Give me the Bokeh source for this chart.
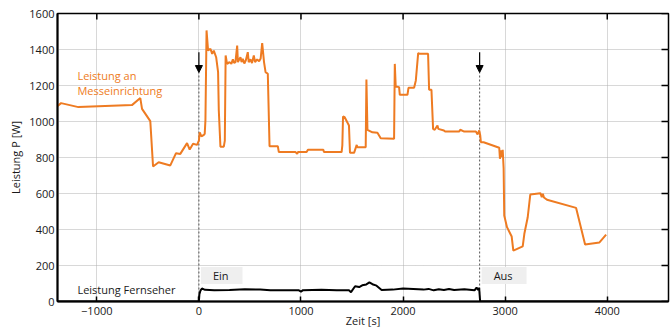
import math
from bokeh.plotting import figure
from bokeh.models import FixedTicker, Label, Arrow, NormalHead
from bokeh.embed import file_html
from bokeh.resources import INLINE

# ---- data ----
meter_t = [-1390, -1350, -1180, -656, -574, -557, -476, -449, -394, -280, -224, -182, -116, -90, -57, -18,
           0, 8, 25, 45, 57, 64, 75, 90, 113, 130, 146, 169, 188, 195, 211, 244, 254, 262, 276, 300, 318,
           333, 345, 358, 375, 382, 407, 418, 430, 445, 460, 479, 488, 505, 520, 538, 550, 570, 590, 605,
           620, 638, 653, 675, 692, 773, 783, 947, 963, 970, 1055, 1068, 1219, 1225, 1398, 1405, 1412, 1428,
           1470, 1480, 1520, 1546, 1552, 1634, 1641, 1651, 1700, 1749, 1781, 1912, 1919, 1928, 1961, 1968,
           2043, 2053, 2108, 2125, 2148, 2167, 2245, 2255, 2278, 2294, 2310, 2337, 2345, 2400, 2412, 2550,
           2560, 2599, 2713, 2730, 2746, 2756, 2762, 2789, 2942, 2949, 2959, 2969, 2976, 2985, 2991, 3018,
           3064, 3080, 3172, 3188, 3221, 3246, 3345, 3359, 3369, 3380, 3410, 3695, 3783, 3924, 3989]
meter_p = [1083, 1102, 1080, 1091, 1130, 1070, 1002, 750, 774, 756, 824, 820, 880, 844, 876, 870,
           894, 940, 917, 924, 931, 1006, 1506, 1394, 1404, 1376, 1394, 1357, 1274, 1061, 860, 860, 894, 1367, 1320, 1330, 1320,
           1345, 1325, 1330, 1422, 1330, 1357, 1330, 1348, 1322, 1340, 1385, 1330, 1345, 1325, 1367, 1330, 1345, 1335, 1350,
           1435, 1330, 1274, 1265, 863, 863, 830, 830, 820, 830, 830, 843, 843, 830, 830, 867, 1028, 1024,
           978, 826, 826, 870, 857, 857, 1233, 954, 940, 937, 907, 904, 1320, 1194, 1191, 1148,
           1148, 1187, 1187, 1228, 1380, 1376, 1376, 1176, 1176, 959, 954, 978, 959, 950, 944, 944,
           954, 944, 944, 928, 950, 922, 885, 885, 854, 793, 839, 802, 843, 740, 478, 413,
           361, 283, 306, 376, 468, 594, 602, 580, 598, 578, 565, 520, 317, 328, 372]

tv_t = [-1390, 0, 5, 15, 30, 60, 150, 300, 450, 600, 700, 980, 1000, 1020, 1200, 1350, 1470, 1490, 1530,
        1570, 1600, 1640, 1670, 1700, 1740, 1790, 1900, 2000, 2100, 2200, 2250, 2300, 2350, 2400, 2450,
        2500, 2600, 2700, 2720, 2735, 2745, 2755, 2760, 4000]
tv_p = [0, 0, 40, 60, 72, 65, 63, 64, 68, 66, 62, 62, 55, 63, 65, 63, 62, 52, 85,
        80, 90, 95, 106, 96, 88, 64, 66, 72, 70, 66, 70, 62, 68, 64, 70,
        64, 68, 62, 78, 64, 76, 0, 0, 0]

events = [0, 2750]
event_labels = ["Ein", "Aus"]

x_ticks = [-1000, 0, 1000, 2000, 3000, 4000]
y_ticks = [0, 200, 400, 600, 800, 1000, 1200, 1400, 1600]

ORANGE = "#EE7B22"
FONT = "Open Sans"
X0, X1, Y0, Y1 = -1385, 4600, 0, 1600

p = figure(width=671, height=332, x_range=(X0, X1), y_range=(Y0, Y1),
           output_backend="svg", toolbar_location=None,
           min_border_left=57, min_border_right=3, min_border_top=13, min_border_bottom=31)

p.outline_line_color = "black"
p.outline_line_width = 1.5

# grid
p.grid.grid_line_color = "#b0b0b0"
p.grid.grid_line_dash = "1 1"
p.grid.grid_line_width = 1

for ax in (p.xaxis[0], p.yaxis[0]):
    ax.axis_line_color = "black"
    ax.axis_line_width = 2
    ax.major_label_text_font = FONT
    ax.major_label_text_font_size = "11px"
    ax.major_label_text_color = "#1a1a1a"
    ax.axis_label_text_font = FONT
    ax.axis_label_text_font_size = "11px"
    ax.axis_label_text_font_style = "normal"
    ax.axis_label_text_color = "#1a1a1a"
    ax.minor_tick_line_color = None
    ax.major_tick_line_color = "black"
    ax.major_tick_line_width = 1.5

p.xaxis.ticker = FixedTicker(ticks=x_ticks)
p.yaxis.ticker = FixedTicker(ticks=y_ticks)
p.xaxis.major_tick_in = 5
p.xaxis.major_tick_out = 0
p.xaxis.major_label_standoff = 5
p.xaxis.axis_label = "Zeit [s]"
p.xaxis.axis_label_standoff = -5
p.yaxis.major_tick_in = 0
p.yaxis.major_tick_out = 0
p.yaxis.major_label_standoff = 3
p.yaxis.axis_label = "Leistung P [W]"
p.yaxis.axis_label_standoff = 3

# inner ticks on top and right frame edges (dash markers centred on the frame edge, clipped by the frame)
p.scatter(x=x_ticks, y=[Y1] * len(x_ticks), marker="dash", angle=math.pi / 2, size=12,
          line_color="black", line_width=1.5)
p.scatter(x=[X1] * len(y_ticks), y=y_ticks, marker="dash", size=14,
          line_color="black", line_width=1.5)

# event markers
p.segment(x0=events, y0=[0, 0], x1=events, y1=[1272, 1272],
          line_color="#555555", line_dash="2 2", line_width=1)
for ev in events:
    p.add_layout(Arrow(end=NormalHead(size=7, fill_color="black", line_color="black"),
                       x_start=ev, y_start=1385, x_end=ev, y_end=1272,
                       line_color="black", line_width=1.2))

for ev, lab in zip(events, event_labels):
    p.add_layout(Label(x=ev, y=144, x_offset=2, text=lab, text_baseline="middle",
                       text_font=FONT, text_font_size="11px", text_color="#1a1a1a",
                       background_fill_color="#efefef",
                       padding=dict(left=12, right=14, top=1, bottom=1)))

# lines
p.line(tv_t, tv_p, line_color="black", line_width=2)
p.line(meter_t, meter_p, line_color=ORANGE, line_width=2)

p.add_layout(Label(x=-1190, y=1256, text="Leistung an", text_baseline="middle",
                   text_font=FONT, text_font_size="11px", text_color=ORANGE))
p.add_layout(Label(x=-1190, y=1172, text="Messeinrichtung", text_baseline="middle",
                   text_font=FONT, text_font_size="11px", text_color=ORANGE))
p.add_layout(Label(x=-1190, y=65, text="Leistung Fernseher", text_baseline="middle",
                   text_font=FONT, text_font_size="11px", text_color="#1a1a1a"))

open("out.html", "w").write(file_html(p, INLINE))
